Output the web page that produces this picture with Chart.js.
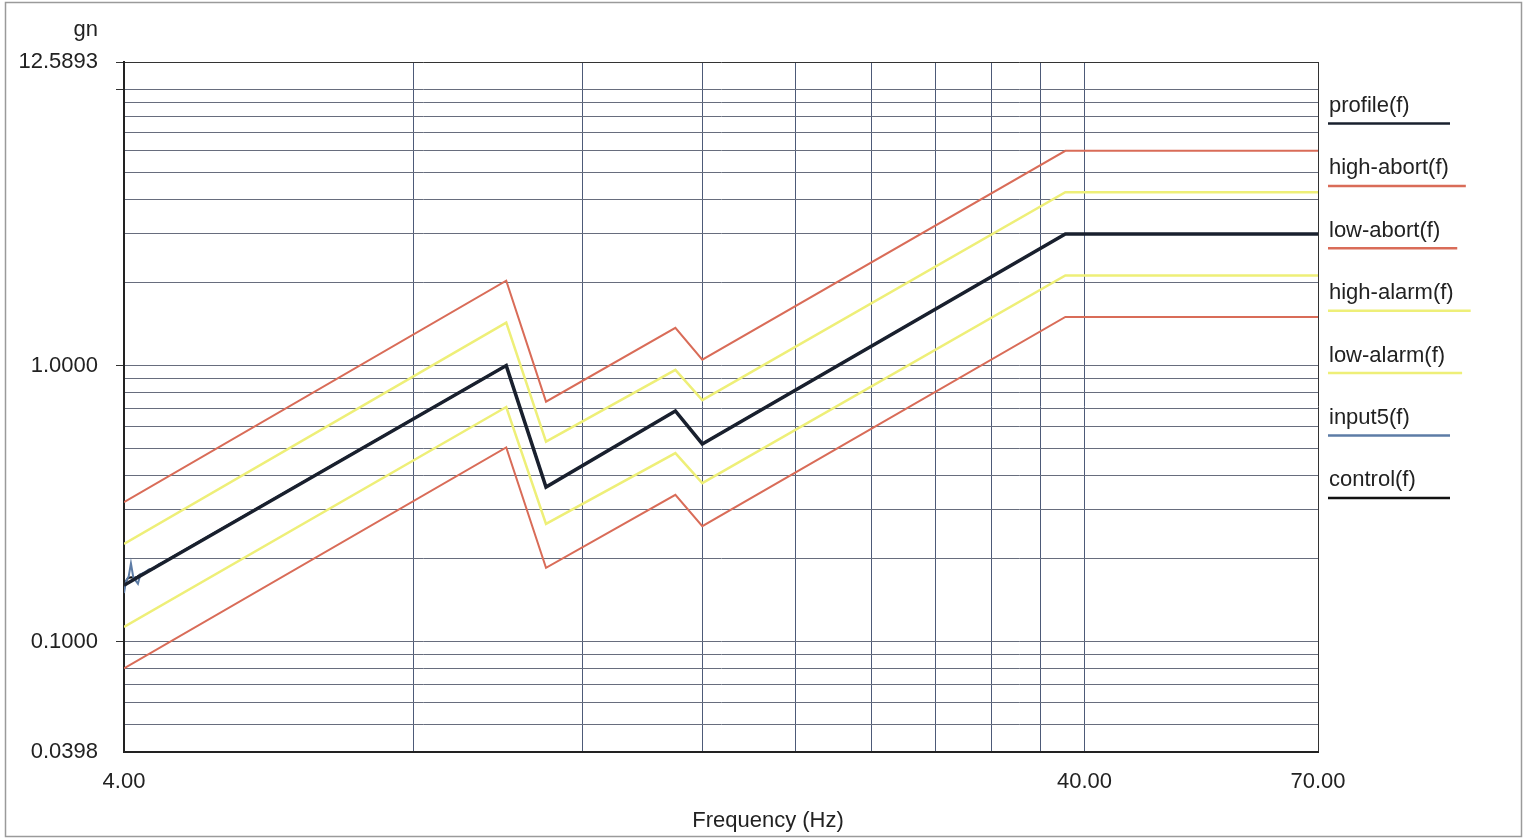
<!DOCTYPE html>
<html>
<head>
<meta charset="utf-8">
<script src="https://cdn.jsdelivr.net/npm/chart.js@4.4.0/dist/chart.umd.min.js"></script>
<style>
  html, body { margin: 0; padding: 0; background: #fff; }
  #wrap { width: 1528px; height: 840px; }
</style>
</head>
<body>
<div id="wrap"><canvas id="chart" width="1528" height="840"></canvas></div>
<script>
// Breakpoints of the test profile and its alarm/abort limits (Hz)
const freqs = [4, 10, 11, 15, 16, 38.2, 70];
const profile   = [0.16, 1.0, 0.363, 0.685, 0.52, 3.0, 3.0];
const highAbort = [0.32, 2.03, 0.74, 1.37, 1.05, 6.0, 6.0];
const lowAbort  = [0.08, 0.505, 0.185, 0.34, 0.262, 1.5, 1.5];
const highAlarm = [0.226, 1.43, 0.53, 0.965, 0.75, 4.25, 4.25];
const lowAlarm  = [0.113, 0.708, 0.267, 0.482, 0.375, 2.12, 2.12];

// Measured signals (noisy at the low end)
const inputFreqs = [4.0, 4.02, 4.045, 4.067, 4.09, 4.115, 4.136, 4.16, 4.2, 4.25, 4.3, 4.35, 4.4, 4.5, 10, 11, 15, 16, 38.2, 70];
const input5     = [0.150, 0.166, 0.172, 0.192, 0.171, 0.166, 0.162, 0.175, 0.178, 0.183, 0.184, 0.191, 0.194, 0.203, 1.0, 0.363, 0.685, 0.52, 3.0, 3.0];
const controlFreqs = [4.0, 4.015, 4.04, 4.07, 4.1, 4.13, 4.16, 4.2, 4.24, 4.28, 4.33, 4.4, 4.5, 10, 11, 15, 16, 38.2, 70];
const control      = [0.155, 0.165, 0.170, 0.171, 0.170, 0.172, 0.175, 0.177, 0.181, 0.183, 0.188, 0.194, 0.203, 1.0, 0.363, 0.685, 0.52, 3.0, 3.0];

// Axis ticks
const xTicks = [4, 8, 12, 16, 20, 24, 28, 32, 36, 40, 70];
const xLabels = [4, 40, 70];
const yTicks = [0.0398, 0.05, 0.06, 0.07, 0.08, 0.09, 0.1, 0.2, 0.3, 0.4, 0.5, 0.6, 0.7, 0.8, 0.9,
                1, 2, 3, 4, 5, 6, 7, 8, 9, 10, 12.5893];
const yLabels = [0.0398, 0.1, 1, 12.5893];
const yTickMarks = [0.1, 1, 10, 12.5893];

const FONT = 'Liberation Sans, Arial, sans-serif';
const FONT_SIZE = 22;
const RED = '#d96c58';
const YELLOW = '#eeef78';

function pts(xs, ys) {
  return xs.map((f, i) => ({ x: f, y: ys[i] }));
}

const frame = {
  id: 'frame',
  beforeDraw(chart) {
    const c = chart.ctx;
    c.save();
    c.strokeStyle = '#9a9a9a';
    c.lineWidth = 1.5;
    c.strokeRect(5.5, 2.5, 1516, 834);
    c.restore();
  },
  afterDraw(chart) {
    const c = chart.ctx;
    const area = chart.chartArea;
    c.save();
    c.font = FONT_SIZE + 'px ' + FONT;
    c.fillStyle = '#222';
    c.textBaseline = 'middle';
    c.textAlign = 'right';
    c.fillText('gn', 98, 30);

    // x axis title sits centred on the whole picture, not on the plot
    c.textAlign = 'center';
    c.fillText('Frequency (Hz)', chart.width / 2 + 4, 821);

    // legend: label with its line underneath
    c.textAlign = 'left';
    chart.data.datasets.forEach((ds, i) => {
      const y = area.top + 44 + i * 62.4;
      c.fillStyle = '#222';
      c.fillText(ds.label, area.right + 11, y);
      const w = c.measureText(ds.label).width;
      const len = Math.max(122, w + 18);
      c.strokeStyle = ds.borderColor;
      c.lineWidth = 2.5;
      c.beginPath();
      c.moveTo(area.right + 10, y + 17.5);
      c.lineTo(area.right + 10 + len, y + 17.5);
      c.stroke();
    });
    c.restore();
  }
};

new Chart(document.getElementById('chart'), {
  type: 'line',
  data: {
    datasets: [
      { label: 'profile(f)', data: pts(freqs, profile), borderColor: '#19202e', borderWidth: 3.5 },
      { label: 'high-abort(f)', data: pts(freqs, highAbort), borderColor: RED, borderWidth: 2 },
      { label: 'low-abort(f)', data: pts(freqs, lowAbort), borderColor: RED, borderWidth: 2 },
      { label: 'high-alarm(f)', data: pts(freqs, highAlarm), borderColor: YELLOW, borderWidth: 2.5 },
      { label: 'low-alarm(f)', data: pts(freqs, lowAlarm), borderColor: YELLOW, borderWidth: 2.5 },
      { label: 'input5(f)', data: pts(inputFreqs, input5), borderColor: '#5d7ca6', borderWidth: 2 },
      { label: 'control(f)', data: pts(controlFreqs, control), borderColor: '#111111', borderWidth: 2 }
    ]
  },
  options: {
    responsive: false,
    animation: false,
    devicePixelRatio: 1,
    layout: { padding: { left: 0, right: 210, top: 62, bottom: 0 } },
    elements: { point: { radius: 0 }, line: { tension: 0 } },
    plugins: { legend: { display: false }, tooltip: { enabled: false } },
    scales: {
      x: {
        type: 'logarithmic',
        min: 4,
        max: 70,
        afterBuildTicks: s => { s.ticks = xTicks.map(v => ({ value: v })); },
        afterFit: s => { s.height = 88; },
        ticks: {
          autoSkip: false,
          maxRotation: 0,
          padding: 17,
          color: '#222',
          font: { family: FONT, size: FONT_SIZE },
          callback: v => xLabels.includes(v) ? v.toFixed(2) : ''
        },
        grid: {
          drawTicks: false,
          lineWidth: 1,
          color: ctx => (ctx.tick && ctx.tick.value === 70) ? '#333' : '#4d5a78'
        },
        border: { display: true, color: '#222', width: 2 }
      },
      y: {
        type: 'logarithmic',
        min: 0.0398,
        max: 12.5893,
        afterBuildTicks: s => { s.ticks = yTicks.map(v => ({ value: v })); },
        afterFit: s => { s.width = 124; },
        ticks: {
          autoSkip: false,
          padding: 18,
          color: '#222',
          font: { family: FONT, size: FONT_SIZE },
          callback: v => yLabels.includes(v) ? v.toFixed(4) : ''
        },
        grid: {
          tickLength: 8,
          lineWidth: 1,
          color: ctx => (ctx.tick && ctx.tick.value === 12.5893) ? '#333' : '#676d7d',
          tickColor: ctx => (ctx.tick && yTickMarks.includes(ctx.tick.value)) ? '#333' : 'rgba(0,0,0,0)'
        },
        border: { display: true, color: '#222', width: 2 }
      }
    }
  },
  plugins: [frame]
});
</script>
</body>
</html>
